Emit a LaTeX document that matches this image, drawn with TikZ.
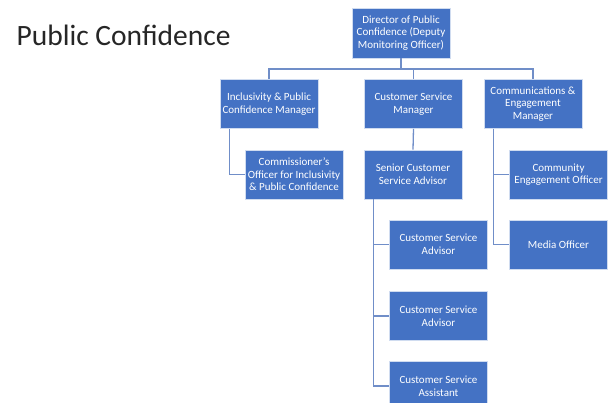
\documentclass[tikz,border=0pt]{standalone}
\usepackage{fontspec}
\setmainfont{Carlito}
\usetikzlibrary{positioning, calc}

\definecolor{boxblue}{RGB}{68,114,196}
\definecolor{linkblue}{RGB}{112,142,200}

\tikzset{
	post/.style={rectangle, fill=boxblue, draw=white!75!boxblue, line width=0.6pt,
		minimum width=98pt, minimum height=49pt, inner sep=1pt,
		align=center, text=white, font=\fontsize{11}{12.6}\selectfont},
	link/.style={draw=linkblue, line width=1.3pt}
}

\begin{document}
\begin{tikzpicture}[x=1pt, y=-1pt]
	\useasboundingbox (0,0) rectangle (611,403);
	\clip (0,0) rectangle (611,403);
	\node[anchor=base west, font=\fontsize{29.5}{33}\selectfont, text=black!85] (title) at (13,46) {Public Confidence};

	% top level and managers
	\node[post, minimum height=50pt] (dir) at (401,33) {Director of Public\\Confidence (Deputy\\Monitoring Officer)};
	\node[post] (incl) at (269,104) {Inclusivity \& Public\\Confidence Manager};
	\node[post] (csm) at (413.5,104) {Customer Service\\Manager};
	\node[post] (comm) at (533,104) {Communications \&\\Engagement\\Manager};
	\coordinate (bar) at (0,69);

	% staff
	\node[post] (offr) at (294,174.5) {Commissioner's\\Officer for Inclusivity\\\& Public Confidence};
	\node[post] (scsa) at (413,174.5) {Senior Customer\\Service Advisor};
	\node[post] (ceo) at (558.5,174.5) {Community\\Engagement Officer};
	\node[post] (csa1) at (438.5,244.5) {Customer Service\\Advisor};
	\node[post] (media) at (558.5,244.5) {Media Officer};
	\node[post] (csa2) at (438.5,316) {Customer Service\\Advisor};
	\node[post] (csas) at (438.5,386) {Customer Service\\Assistant};

	% connectors
	\draw[link] (dir.south) -- (dir.south |- bar) -| (incl.north);
	\draw[link] (dir.south |- bar) -| (comm.north);
	\draw[link] (csm.north |- bar) -- (csm.north);
	\draw[link] ([xshift=10pt]incl.south west) |- (offr.west);
	\draw[link] (csm.south) -- (scsa.north);
	\foreach \n in {csa1, csa2, csas}{
		\draw[link] ([xshift=10pt]scsa.south west) |- (\n.west);
	}
	\foreach \n in {ceo, media}{
		\draw[link] ([xshift=10pt]comm.south west) |- (\n.west);
	}
\end{tikzpicture}
\end{document}
